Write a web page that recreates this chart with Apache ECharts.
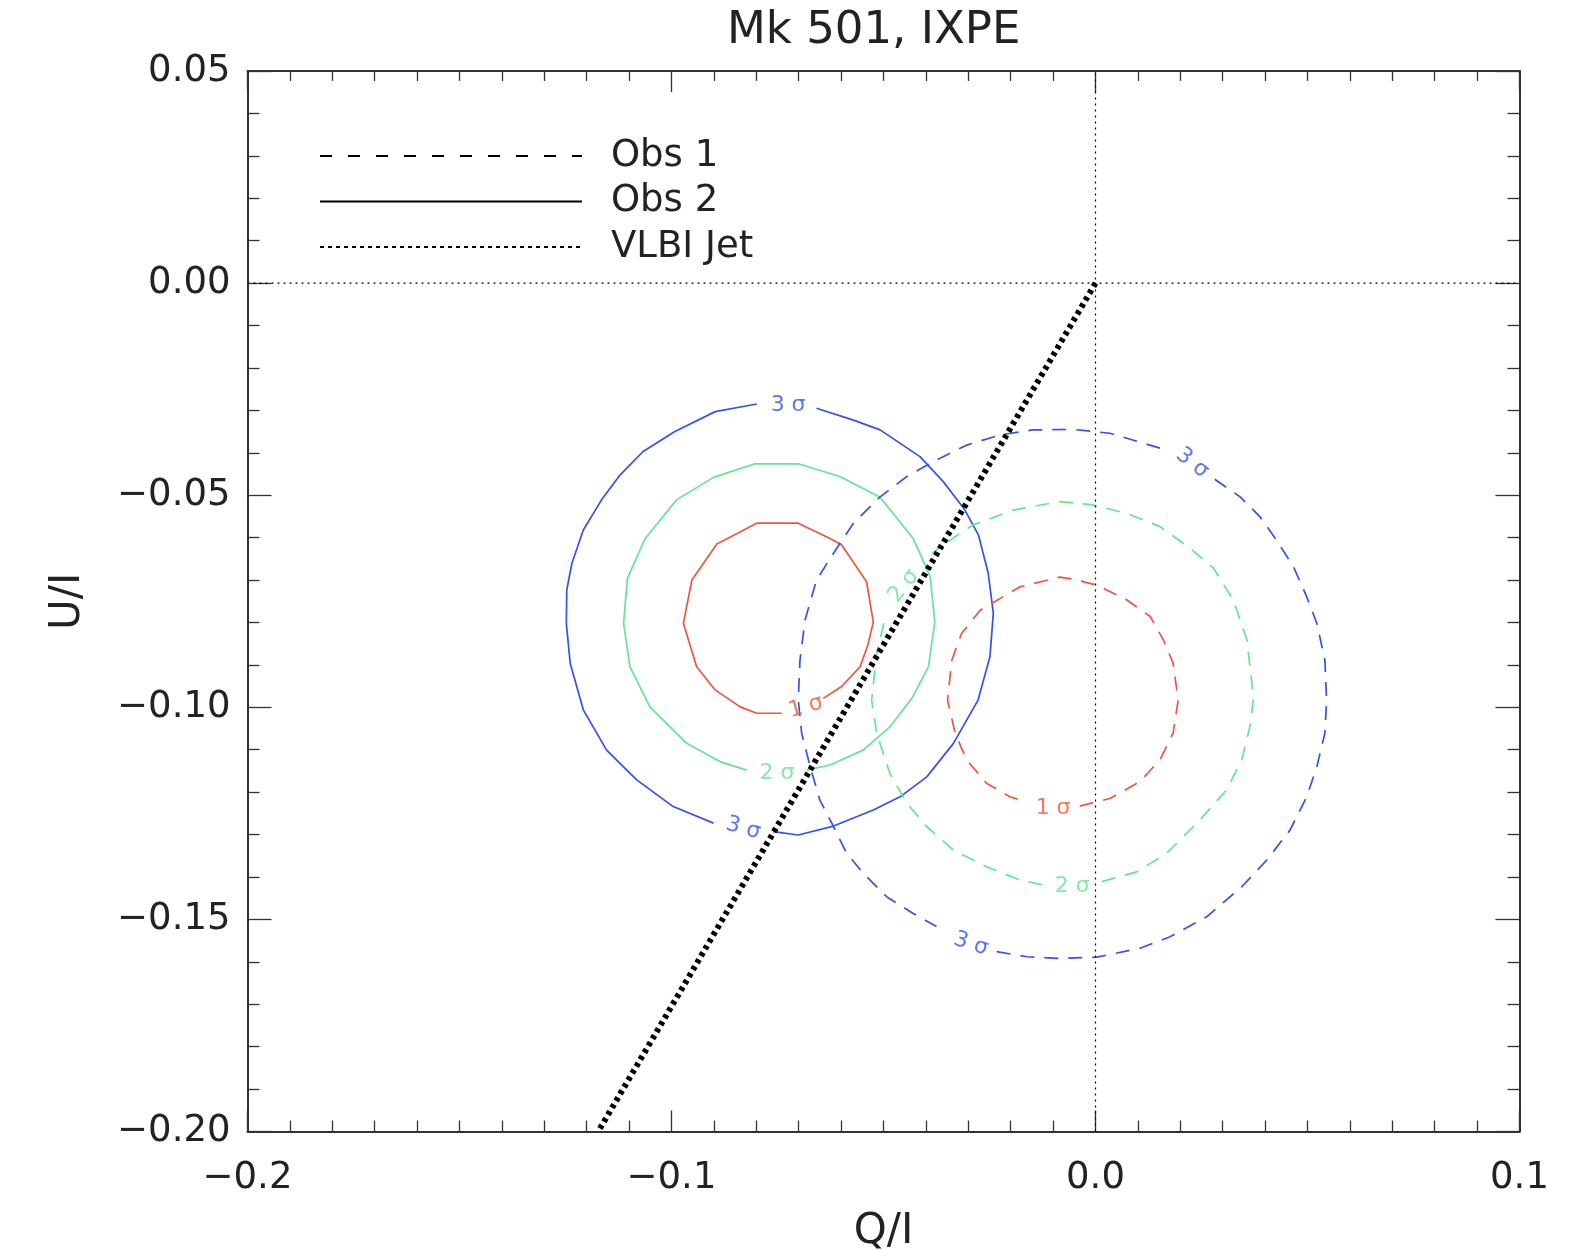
<!DOCTYPE html>
<html>
<head>
<meta charset="utf-8">
<script src="https://cdn.jsdelivr.net/npm/echarts@6/dist/echarts.min.js"></script>
<style>
html, body { margin: 0; padding: 0; background: #fff; }
#chart { width: 1588px; height: 1250px; }
</style>
</head>
<body>
<div id="chart"></div>
<script>
// axis ranges
var qRange = [-0.2, 0.1]
var uRange = [-0.2, 0.05]

// Obs 2 (solid) contours, [Q/I, U/I]
var obs2_1sig = [[-0.0642,-0.0979],[-0.0599,-0.0951],[-0.0555,-0.0904],[-0.0537,-0.0853],[-0.0524,-0.0799],[-0.0540,-0.0704],[-0.0599,-0.0617],[-0.0626,-0.0602],[-0.0701,-0.0566],[-0.0799,-0.0566],[-0.0893,-0.0615],[-0.0952,-0.0700],[-0.0972,-0.0802],[-0.0941,-0.0904],[-0.0897,-0.0959],[-0.0838,-0.0999],[-0.0799,-0.1014],[-0.0740,-0.1014]]
var obs2_2sig = [[-0.0681,-0.1148],[-0.0626,-0.1136],[-0.0548,-0.1101],[-0.0485,-0.1046],[-0.0433,-0.0979],[-0.0394,-0.0904],[-0.0379,-0.0798],[-0.0390,-0.0692],[-0.0430,-0.0602],[-0.0508,-0.0505],[-0.0603,-0.0456],[-0.0701,-0.0426],[-0.0803,-0.0426],[-0.0901,-0.0458],[-0.0988,-0.0511],[-0.1062,-0.0602],[-0.1104,-0.0696],[-0.1113,-0.0802],[-0.1098,-0.0904],[-0.1051,-0.0999],[-0.0964,-0.1085],[-0.0886,-0.1128],[-0.0823,-0.1148]]
var obs2_3sig_a = [[-0.0658,-0.0295],[-0.0571,-0.0323],[-0.0508,-0.0346],[-0.0414,-0.0409],[-0.0359,-0.0468],[-0.0308,-0.0535],[-0.0276,-0.0594],[-0.0253,-0.0684],[-0.0241,-0.0778],[-0.0249,-0.0881],[-0.0277,-0.0983],[-0.0335,-0.1085],[-0.0398,-0.1164],[-0.0461,-0.1211],[-0.0524,-0.1242],[-0.0618,-0.1280],[-0.0701,-0.1301],[-0.0760,-0.1293]]
var obs2_3sig_b = [[-0.0901,-0.1273],[-0.0996,-0.1234],[-0.1082,-0.1171],[-0.1153,-0.1101],[-0.1208,-0.1006],[-0.1239,-0.0896],[-0.1248,-0.0802],[-0.1247,-0.0723],[-0.1235,-0.0661],[-0.1208,-0.0582],[-0.1165,-0.0511],[-0.1121,-0.0452],[-0.1067,-0.0397],[-0.0992,-0.0350],[-0.0897,-0.0303],[-0.0799,-0.0285]]

// Obs 1 (dashed) contours
var obs1_1sig = [[-0.0037,-0.1233],[0.0034,-0.1215],[0.0105,-0.1175],[0.0152,-0.1124],[0.0183,-0.1061],[0.0195,-0.0983],[0.0183,-0.0896],[0.0160,-0.0841],[0.0129,-0.0786],[0.0074,-0.0747],[0.0003,-0.0712],[-0.0052,-0.0698],[-0.0084,-0.0693],[-0.0178,-0.0716],[-0.0272,-0.0771],[-0.0316,-0.0826],[-0.0339,-0.0889],[-0.0349,-0.0983],[-0.0331,-0.1061],[-0.0304,-0.1124],[-0.0257,-0.1179],[-0.0202,-0.1211],[-0.0162,-0.1223]]
var obs1_2sig_a = [[0.0015,-0.1411],[0.0097,-0.1388],[0.0168,-0.1344],[0.0246,-0.1266],[0.0309,-0.1195],[0.0345,-0.1124],[0.0364,-0.1046],[0.0372,-0.0983],[0.0368,-0.0936],[0.0357,-0.0841],[0.0325,-0.0747],[0.0278,-0.0672],[0.0223,-0.0625],[0.0152,-0.0574],[0.0074,-0.0543],[-0.0005,-0.0523],[-0.0084,-0.0515],[-0.0194,-0.0535],[-0.0288,-0.0570],[-0.0320,-0.0590],[-0.0386,-0.0637]]
var obs1_2sig_b = [[-0.0499,-0.0802],[-0.0516,-0.0873],[-0.0528,-0.0983],[-0.0516,-0.1061],[-0.0485,-0.1156],[-0.0445,-0.1226],[-0.0398,-0.1281],[-0.0336,-0.1336],[-0.0257,-0.1376],[-0.0178,-0.1407],[-0.0123,-0.1419]]
var obs1_3sig_a = [[-0.0233,-0.1576],[-0.0162,-0.1588],[-0.0084,-0.1592],[0.0003,-0.1589],[0.0105,-0.1568],[0.0176,-0.1541],[0.0262,-0.1494],[0.0345,-0.1423],[0.0404,-0.1360],[0.0459,-0.1289],[0.0498,-0.1211],[0.0522,-0.1140],[0.0541,-0.1061],[0.0545,-0.0983],[0.0541,-0.0889],[0.0522,-0.0802],[0.0498,-0.0739],[0.0467,-0.0669],[0.0427,-0.0606],[0.0388,-0.0551],[0.0341,-0.0504],[0.0278,-0.0460]]
var obs1_3sig_b = [[0.0152,-0.0389],[0.0034,-0.0354],[-0.0052,-0.0345],[-0.0147,-0.0346],[-0.0225,-0.0358],[-0.0304,-0.0382],[-0.0375,-0.0417],[-0.0445,-0.0456],[-0.0508,-0.0504],[-0.0571,-0.0566],[-0.0618,-0.0637],[-0.0658,-0.0700],[-0.0685,-0.0794],[-0.0697,-0.0889],[-0.0701,-0.0983],[-0.0693,-0.1061],[-0.0673,-0.1140],[-0.0650,-0.1219],[-0.0618,-0.1281],[-0.0587,-0.1344],[-0.0548,-0.1391],[-0.0492,-0.1447],[-0.0430,-0.1486],[-0.0375,-0.1517]]

// VLBI jet direction
var jet = [[0, 0], [-0.117, -0.1995]]

// contour labels: Q, U, text, rotation, level
var contourLabels = [
  [-0.0683, -0.0999, '1 σ', 16, 1],
  [-0.0751, -0.1155, '2 σ', 0, 2],
  [-0.0725, -0.0287, '3 σ', 0, 3],
  [-0.0831, -0.1285, '3 σ', -16, 3],
  [-0.0100, -0.1237, '1 σ', 0, 1],
  [-0.0055, -0.1421, '2 σ', 0, 2],
  [-0.0452, -0.0714, '2 σ', 52, 2],
  [0.0228, -0.0424, '3 σ', -38, 3],
  [-0.0294, -0.1558, '3 σ', -18, 3]
]

var red = '#f0553f'
var green = '#63e68e'
var blue = '#3352ee'
var levelColor = {1: red, 2: green, 3: blue}
var font = 'DejaVu Sans'
var dash = [14, 10]

function minus(s) {
  return s.replace('-', '\u2212')
}

function contour(data, color, dashed) {
  return {
    type: 'line',
    data: data,
    symbol: 'none',
    silent: true,
    z: 3,
    lineStyle: {color: color, width: 1.7, type: dashed ? dash : 'solid'}
  }
}

var chart = echarts.init(document.getElementById('chart'))

var axisCommon = {
  axisLine: {show: true, onZero: false, lineStyle: {color: '#333', width: 2}},
  splitLine: {show: false},
  axisTick: {show: true, inside: true, lineStyle: {color: '#333', width: 1.3}},
  minorTick: {show: true, lineStyle: {color: '#333', width: 1.3}}
}

chart.setOption({
  animation: false,
  backgroundColor: '#fff',
  title: {
    text: 'Mk 501, IXPE',
    left: 722,
    top: 4,
    textStyle: {fontFamily: font, fontSize: 45, fontWeight: 'normal', color: '#222'}
  },
  legend: {
    data: ['Obs 1', 'Obs 2', 'VLBI Jet'],
    orient: 'vertical',
    left: 314,
    top: 131,
    itemWidth: 262,
    itemHeight: 14,
    itemGap: 5.5,
    selectedMode: false,
    itemStyle: {opacity: 0},
    textStyle: {fontFamily: font, fontSize: 37, color: '#222', lineHeight: 40, padding: [0, 0, 0, 24]}
  },
  grid: {left: 247.5, right: 68.5, top: 71, bottom: 118.5, containLabel: false, outerBoundsMode: 'none'},
  xAxis: [
    Object.assign({}, axisCommon, {
      type: 'value', position: 'bottom', min: qRange[0], max: qRange[1], interval: 0.1,
      name: 'Q/I', nameLocation: 'middle', nameGap: 80,
      nameTextStyle: {fontFamily: font, fontSize: 42, color: '#222'},
      axisTick: Object.assign({}, axisCommon.axisTick, {length: 21}),
      minorTick: Object.assign({}, axisCommon.minorTick, {splitNumber: 10, length: 11}),
      axisLabel: {
        margin: 28, fontFamily: font, fontSize: 37, color: '#222',
        formatter: function (v) { return minus(v.toFixed(1)) }
      }
    }),
    Object.assign({}, axisCommon, {
      type: 'value', position: 'top', min: qRange[0], max: qRange[1], interval: 0.1,
      axisTick: Object.assign({}, axisCommon.axisTick, {length: 21}),
      minorTick: Object.assign({}, axisCommon.minorTick, {splitNumber: 10, length: 10}),
      axisLabel: {show: false}
    })
  ],
  yAxis: [
    Object.assign({}, axisCommon, {
      type: 'value', position: 'left', min: uRange[0], max: uRange[1], interval: 0.05,
      name: 'U/I', nameLocation: 'middle', nameGap: 158, nameRotate: 90,
      nameTextStyle: {fontFamily: font, fontSize: 42, color: '#222'},
      axisTick: Object.assign({}, axisCommon.axisTick, {length: 24}),
      minorTick: Object.assign({}, axisCommon.minorTick, {splitNumber: 5, length: 12}),
      axisLabel: {
        margin: 17, fontFamily: font, fontSize: 37, color: '#222',
        formatter: function (v) { return minus(v.toFixed(2)) }
      }
    }),
    Object.assign({}, axisCommon, {
      type: 'value', position: 'right', min: uRange[0], max: uRange[1], interval: 0.05,
      axisTick: Object.assign({}, axisCommon.axisTick, {length: 24}),
      minorTick: Object.assign({}, axisCommon.minorTick, {splitNumber: 5, length: 12}),
      axisLabel: {show: false}
    })
  ],
  series: [
    // legend entries
    {name: 'Obs 1', type: 'line', data: [], symbol: 'none', itemStyle: {color: '#000'},
      lineStyle: {color: '#000', width: 1.5, type: [12, 16]}},
    {name: 'Obs 2', type: 'line', data: [], symbol: 'none', itemStyle: {color: '#000'},
      lineStyle: {color: '#000', width: 1.5}},
    // zero lines
    {type: 'line', data: [[qRange[0], 0], [qRange[1], 0]], symbol: 'none', silent: true, z: 4,
      lineStyle: {color: '#000', width: 1.2, type: [2, 4]}},
    {type: 'line', data: [[0, uRange[0]], [0, uRange[1]]], symbol: 'none', silent: true, z: 4,
      lineStyle: {color: '#000', width: 1.2, type: [2, 4]}},
    contour(obs2_1sig, red, false),
    contour(obs2_2sig, green, false),
    contour(obs2_3sig_a, blue, false),
    contour(obs2_3sig_b, blue, false),
    contour(obs1_1sig, red, true),
    contour(obs1_2sig_a, green, true),
    contour(obs1_2sig_b, green, true),
    contour(obs1_3sig_a, blue, true),
    contour(obs1_3sig_b, blue, true),
    {
      type: 'scatter',
      silent: true,
      z: 4,
      symbolSize: 1,
      itemStyle: {color: 'rgba(0,0,0,0)'},
      data: contourLabels.map(function (d) {
        return {
          value: [d[0], d[1]],
          label: {
            show: true, position: 'inside', formatter: d[2], rotate: d[3],
            color: levelColor[d[4]], fontFamily: font, fontSize: 22
          }
        }
      })
    },
    {
      name: 'VLBI Jet', type: 'line', data: jet, symbol: 'none', z: 5,
      itemStyle: {color: '#000'},
      lineStyle: {color: '#000', width: 6, type: [4, 4]}
    }
  ]
})
</script>
</body>
</html>
